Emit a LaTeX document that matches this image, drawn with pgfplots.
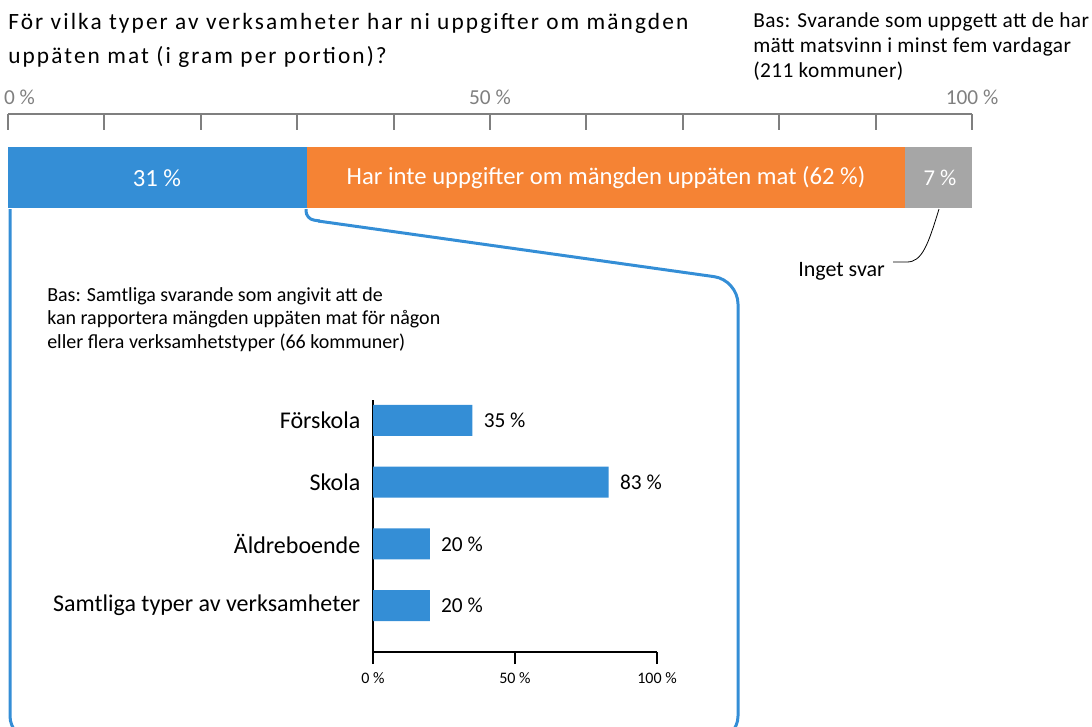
\documentclass[border=0pt]{standalone}
\usepackage{pgfplots}
\pgfplotsset{compat=1.18}
\usepackage{fontspec}
\setmainfont{Carlito}
\newfontfamily\titlefont[LetterSpace=9]{Carlito}
\newfontfamily\notefont[LetterSpace=2]{Carlito}
\definecolor{cblue}{HTML}{348ED6}
\definecolor{corange}{HTML}{F58334}
\definecolor{cgray}{HTML}{A6A6A6}
\definecolor{tgray}{HTML}{7F7F7F}
\begin{document}
\begin{tikzpicture}[x=0.75pt,y=-0.75pt]
\useasboundingbox (0,0) rectangle (1092,726);
% titles
\node[anchor=base west, inner sep=0, font=\titlefont\fontsize{17.5}{21}\selectfont] at (8,29) {För vilka typer av verksamheter har ni uppgifter om mängden};
\node[anchor=base west, inner sep=0, font=\titlefont\fontsize{17.5}{21}\selectfont] at (8,63) {uppäten mat (i gram per portion)?};
\node[anchor=base west, inner sep=0, font=\notefont\fontsize{16}{19}\selectfont] at (753,27) {Bas: Svarande som uppgett att de har};
\node[anchor=base west, inner sep=0, font=\notefont\fontsize{16}{19}\selectfont] at (753,52) {mätt matsvinn i minst fem vardagar};
\node[anchor=base west, inner sep=0, font=\notefont\fontsize{16}{19}\selectfont] at (753,77) {(211 kommuner)};
% inner base text
\node[anchor=base west, inner sep=0, font=\fontsize{15}{18}\selectfont] at (47,301) {Bas: Samtliga svarande som angivit att de};
\node[anchor=base west, inner sep=0, font=\fontsize{15}{18}\selectfont] at (47,324) {kan rapportera mängden uppäten mat för någon};
\node[anchor=base west, inner sep=0, font=\fontsize{15}{18}\selectfont] at (47,348) {eller flera verksamhetstyper (66 kommuner)};
% Inget svar
\node[anchor=base west, inner sep=0, font=\fontsize{16.5}{19}\selectfont] at (798,276) {Inget svar};
\draw[black, line width=0.6pt] (939,209) .. controls (928,245) and (922,262) .. (907,262) -- (893,262);
% callout
\draw[cblue, line width=2.25pt, rounded corners=6pt] (306,209) -- (306,219) -- (320,221);
\draw[cblue, line width=2.25pt, rounded corners=18pt] (318,221) -- (738,280) -- (738,740) -- (10,740) -- (10,209);
% top bar
\begin{axis}[
 at={(6pt,-85.5pt)}, anchor=north west,
 scale only axis, width=723pt, height=70.5pt,
 xmin=0, xmax=100, ymin=-0.5, ymax=1.041,
 xbar stacked, bar width=45.75pt,
 hide y axis, axis x line=top,
 x axis line style={-, tgray, line width=1.5pt},
 xtick={0,10,...,100},
 xticklabels={\makebox[0pt][l]{\hspace{-3pt}0 \%},,,,,50 \%,,,,,100 \%},
 major tick length=12pt, tick align=inside,
 x tick style={tgray, line width=1.5pt},
 xticklabel style={font=\fontsize{16}{19}\selectfont, text=tgray, yshift=3.75pt},
 ytick=\empty, clip=false,
]
\addplot[fill=cblue, draw=none] coordinates {(31,0)};
\addplot[fill=corange, draw=none] coordinates {(62,0)};
\addplot[fill=cgray, draw=none] coordinates {(7,0)};
\end{axis}
\node[text=white, font=\fontsize{18.5}{22}\selectfont] at (157,178) {31 \%};
\node[text=white, font=\fontsize{18.5}{22}\selectfont] at (606,178) {Har inte uppgifter om mängden uppäten mat (62 \%)};
\node[text=white, font=\fontsize{17}{20}\selectfont] at (940,178) {7 \%};
% bottom chart
\begin{axis}[
 at={(279.75pt,-300pt)}, anchor=north west,
 scale only axis, width=213pt, height=189pt,
 xmin=0, xmax=100, ymin=-0.754, ymax=3.332,
 xbar, bar width=23.25pt,
 axis x line=bottom, axis y line=left,
 axis line style={-, black, line width=0.8pt},
 xtick={0,50,100}, xticklabels={0 \%,50 \%,100 \%},
 tick align=outside, major tick length=9pt,
 x tick style={black, line width=0.8pt},
 xticklabel style={font=\fontsize{12}{14}\selectfont, yshift=-3pt},
 ytick={0,1,2,3},
 yticklabels={Samtliga typer av verksamheter,Äldreboende,Skola,Förskola},
 y tick style={draw=none},
 yticklabel style={font=\fontsize{18}{21}\selectfont, xshift=3pt},
 /pgf/number format/assume math mode=true,
 nodes near coords={\pgfmathprintnumber{\pgfplotspointmeta} \%},
 nodes near coords style={font=\fontsize{16}{19}\selectfont, text=black, xshift=5pt},
 clip=false,
]
\addplot[fill=cblue, draw=none] coordinates {(20,0) (20,1) (83,2) (35,3)};
\end{axis}
\end{tikzpicture}
\end{document}
